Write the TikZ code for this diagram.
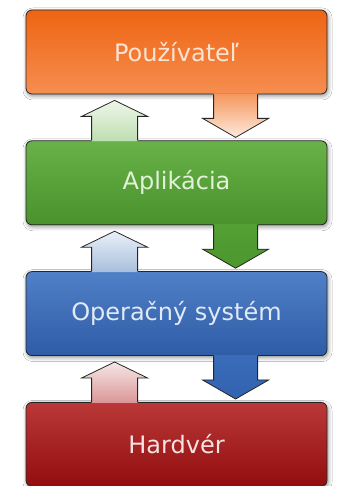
\documentclass[tikz,border=0pt]{standalone}
\usepackage{fontspec}
\setsansfont{DejaVu Sans}
\usetikzlibrary{positioning,calc,shadows.blur}
\definecolor{edge}{HTML}{262626}
\tikzset{
  layer/.style={
    rectangle, draw=edge, line width=0.8pt,
    minimum width=301pt, minimum height=84pt,
    rounded corners=6pt,
    blur shadow={shadow xshift=1pt,shadow yshift=-2pt,shadow blur radius=4pt,shadow opacity=45},
  },
  usrbox/.style={layer, top color={rgb,255:red,238;green,100;blue,18}, middle color={rgb,255:red,241;green,110;blue,30}, bottom color={rgb,255:red,246;green,142;blue,80}, text={rgb,255:red,252;green,228;blue,210}},
  appbox/.style={layer, top color={rgb,255:red,104;green,178;blue,72}, middle color={rgb,255:red,84;green,160;blue,52}, bottom color={rgb,255:red,74;green,146;blue,44}, text={rgb,255:red,226;green,241;blue,218}},
  osbox/.style={layer, top color={rgb,255:red,80;green,128;blue,200}, middle color={rgb,255:red,53;green,103;blue,180}, bottom color={rgb,255:red,46;green,92;blue,166}, text={rgb,255:red,226;green,234;blue,246}},
  hwbox/.style={layer, top color={rgb,255:red,186;green,56;blue,56}, middle color={rgb,255:red,160;green,20;blue,20}, bottom color={rgb,255:red,146;green,14;blue,14}, text={rgb,255:red,248;green,226;blue,226}},
  rim/.style={draw=edge, line width=0.8pt, line join=miter},
}
% block arrow up: lower node, upper node, top colour, bottom colour
\newcommand{\flowup}[4]{%
  \path[top color=#3, bottom color=#4] let \p1=(#1.north west) in
    (\x1+66pt,\y1-1pt) -- (\x1+66pt,\y1+24pt) -- (\x1+56pt,\y1+24pt) -- (\x1+89pt,\y1+40pt)
    -- (\x1+122pt,\y1+24pt) -- (\x1+112pt,\y1+24pt) -- (\x1+112pt,\y1-1pt) -- cycle;
  \path[rim] let \p1=(#1.north west) in
    (\x1+66pt,\y1) -- (\x1+66pt,\y1+24pt) -- (\x1+56pt,\y1+24pt) -- (\x1+89pt,\y1+40pt)
    -- (\x1+122pt,\y1+24pt) -- (\x1+112pt,\y1+24pt) -- (\x1+112pt,\y1);
}
% block arrow down: upper node, lower node, top colour, bottom colour
\newcommand{\flowdown}[4]{%
  \path[top color=#3, bottom color=#4] let \p1=(#1.south west) in
    (\x1+188pt,\y1+1pt) -- (\x1+188pt,\y1-24pt) -- (\x1+177pt,\y1-24pt) -- (\x1+210pt,\y1-43pt)
    -- (\x1+243pt,\y1-24pt) -- (\x1+232pt,\y1-24pt) -- (\x1+232pt,\y1+1pt) -- cycle;
  \path[rim] let \p1=(#1.south west) in
    (\x1+188pt,\y1) -- (\x1+188pt,\y1-24pt) -- (\x1+177pt,\y1-24pt) -- (\x1+210pt,\y1-43pt)
    -- (\x1+243pt,\y1-24pt) -- (\x1+232pt,\y1-24pt) -- (\x1+232pt,\y1);
}

\begin{document}
\begin{tikzpicture}[x=1pt,y=1pt,font=\sffamily\fontsize{24}{29}\selectfont,node distance=46pt]
\path[fill=white, use as bounding box] (0,0) rectangle (337,486);
\node [usrbox] at (176.5,434) (usr) {Používateľ};
\node [appbox, below=of usr] (app) {Aplikácia};
\node [osbox, below=of app] (os) {Operačný systém};
\node [hwbox, below=of os] (hw) {Hardvér};
\flowup{app}{usr}{{rgb,255:red,238;green,246;blue,234}}{{rgb,255:red,190;green,222;blue,176}}
\flowdown{usr}{app}{{rgb,255:red,245;green,150;blue,92}}{{rgb,255:red,253;green,234;blue,220}}
\flowup{os}{app}{{rgb,255:red,234;green,240;blue,248}}{{rgb,255:red,168;green,190;blue,220}}
\flowdown{app}{os}{{rgb,255:red,84;green,160;blue,52}}{{rgb,255:red,76;green,150;blue,46}}
\flowup{hw}{os}{{rgb,255:red,246;green,230;blue,230}}{{rgb,255:red,218;green,150;blue,150}}
\flowdown{os}{hw}{{rgb,255:red,58;green,108;blue,186}}{{rgb,255:red,50;green,98;blue,176}}
\end{tikzpicture}
\end{document}
